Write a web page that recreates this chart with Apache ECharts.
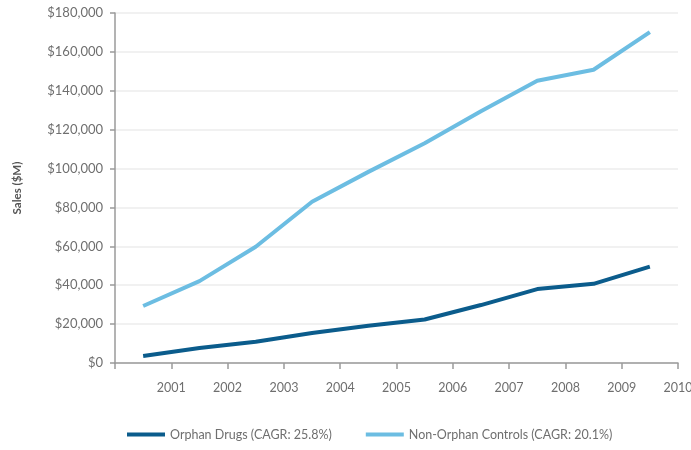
<!DOCTYPE html>
<html>
<head>
<meta charset="utf-8">
<script src="https://cdn.jsdelivr.net/npm/echarts@6/dist/echarts.min.js"></script>
<style>
  html, body { margin: 0; padding: 0; background: #fff; }
  #chart { width: 691px; height: 450px; }
</style>
</head>
<body>
<div id="chart"></div>
<script>
// data points sit mid-year, between the year ticks
var years = [2000.5, 2001.5, 2002.5, 2003.5, 2004.5, 2005.5, 2006.5, 2007.5, 2008.5, 2009.5];
var orphan = [3600, 7700, 10900, 15400, 19200, 22400, 29800, 38000, 40700, 49600];
var nonOrphan = [29300, 42100, 59800, 82900, 98300, 113000, 129500, 145200, 150800, 170200];
var seriesNames = ['Orphan Drugs (CAGR: 25.8%)', 'Non-Orphan Controls (CAGR: 20.1%)'];

var chart = echarts.init(document.getElementById('chart'));

function pairs(xs, ys) {
  return xs.map(function (x, i) { return [x, ys[i]]; });
}

var grey = '#6f6f6f';
var font = 'Lato, "Open Sans", sans-serif';

var option = {
  animation: false,
  textStyle: { fontFamily: font },
  grid: { left: 115, right: 13, top: 13, bottom: 87, outerBoundsMode: 'none' },
  legend: {
    bottom: 4,
    left: 122,
    itemWidth: 38,
    itemHeight: 4,
    itemGap: 34,
    icon: 'rect',
    textStyle: { color: grey, fontSize: 12.5, fontFamily: font },
    data: seriesNames
  },
  xAxis: {
    type: 'value',
    min: 2000,
    max: 2010,
    interval: 1,
    axisLine: { lineStyle: { color: '#9a9a9a', width: 1.5 } },
    axisTick: { show: true, length: 6, lineStyle: { color: '#9a9a9a', width: 1.5 } },
    axisLabel: {
      color: grey,
      fontSize: 12.5,
      margin: 18,
      formatter: function (v) { return v === 2000 ? '' : String(v); }
    },
    splitLine: { show: false }
  },
  yAxis: {
    type: 'value',
    min: 0,
    max: 180000,
    interval: 20000,
    name: 'Sales ($M)',
    nameLocation: 'middle',
    nameGap: 92,
    nameTextStyle: { color: '#555', fontWeight: 'bold', fontSize: 11.5 },
    axisLine: { show: true, lineStyle: { color: '#9a9a9a', width: 1.5 } },
    axisTick: { show: true, length: 5, lineStyle: { color: '#9a9a9a', width: 1.5 } },
    axisLabel: {
      color: grey,
      fontSize: 13,
      margin: 12,
      formatter: function (v) { return '$' + v.toLocaleString('en-US'); }
    },
    splitLine: { lineStyle: { color: '#ececec', width: 1.5 } }
  },
  series: [
    {
      name: seriesNames[0],
      type: 'line',
      data: pairs(years, orphan),
      showSymbol: false,
      color: '#0b5c8c',
      lineStyle: { width: 4, color: '#0b5c8c' }
    },
    {
      name: seriesNames[1],
      type: 'line',
      data: pairs(years, nonOrphan),
      showSymbol: false,
      color: '#6cbde2',
      lineStyle: { width: 4, color: '#6cbde2' }
    }
  ]
};

chart.setOption(option);
</script>
</body>
</html>
